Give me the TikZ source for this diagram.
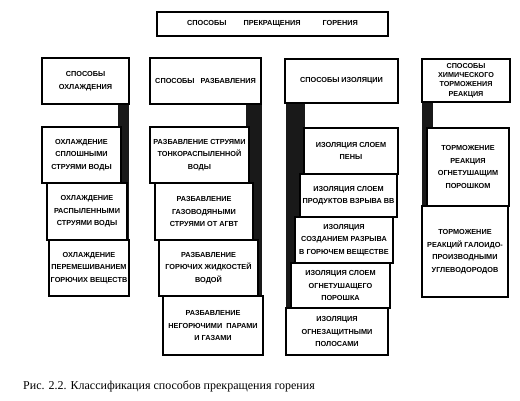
\documentclass[tikz,border=0pt]{standalone}
\usepackage{fontspec}
\setmainfont{Liberation Serif}
\setsansfont{Liberation Sans}
\newcommand\boxat[7][]{\node[box,anchor=north west,minimum width={(#5-#3)*1pt},minimum height={(#6-#4)*1pt},#1] (#2) at (#3,#4) {#7};}
\begin{document}
\begin{tikzpicture}[x=1pt,y=-1pt,
  box/.style={draw=black,line width=1.1pt,fill=white,inner sep=0pt,outer sep=0pt,align=center,
    font=\sffamily\bfseries\fontsize{7.3}{12.5}\selectfont},
  tight/.style={font=\sffamily\bfseries\fontsize{7.2}{9.2}\selectfont},
  spine/.style={fill=black!90,draw=none}]
\useasboundingbox[fill=white] (0,0) rectangle (520,400);
% dark spines behind the columns
\fill[spine] (118,100) rectangle (129,242);
\fill[spine] (246,100) rectangle (262,298);
\fill[spine] (286,100) rectangle (305,310);
\fill[spine] (422,100) rectangle (433,208);
% top
\boxat{top}{157}{12}{388}{36}{СПОСОБЫ\hspace{17pt}ПРЕКРАЩЕНИЯ\hspace{22pt}ГОРЕНИЯ}
% headers
\boxat{h1}{42}{58}{129}{104}{СПОСОБЫ\\ОХЛАЖДЕНИЯ}
\boxat{h2}{150}{58}{261}{104}{СПОСОБЫ\hspace{6pt}РАЗБАВЛЕНИЯ}
\boxat{h3}{285}{59}{398}{103}{СПОСОБЫ ИЗОЛЯЦИИ}
\boxat[tight]{h4}{422}{59}{510}{102}{СПОСОБЫ\\ХИМИЧЕСКОГО\\ТОРМОЖЕНИЯ\\РЕАКЦИЯ}
% column 1
\boxat{a1}{42}{127}{121}{183}{ОХЛАЖДЕНИЕ\\СПЛОШНЫМИ\\СТРУЯМИ ВОДЫ}
\boxat{a2}{47}{183}{127}{240}{ОХЛАЖДЕНИЕ\\РАСПЫЛЕННЫМИ\\СТРУЯМИ ВОДЫ}
\boxat{a3}{49}{240}{129}{296}{ОХЛАЖДЕНИЕ\\ПЕРЕМЕШИВАНИЕМ\\ГОРЮЧИХ ВЕЩЕСТВ}
% column 2
\boxat{b1}{150}{127}{249}{183}{РАЗБАВЛЕНИЕ СТРУЯМИ\\ТОНКОРАСПЫЛЕННОЙ\\ВОДЫ}
\boxat{b2}{155}{183}{253}{240}{РАЗБАВЛЕНИЕ\\ГАЗОВОДЯНЫМИ\\СТРУЯМИ ОТ АГВТ}
\boxat{b3}{159}{240}{258}{296}{РАЗБАВЛЕНИЕ\\ГОРЮЧИХ ЖИДКОСТЕЙ\\ВОДОЙ}
\boxat{b4}{163}{296}{263}{355}{РАЗБАВЛЕНИЕ\\НЕГОРЮЧИМИ\hspace{4pt}ПАРАМИ\\И ГАЗАМИ}
% column 3
\boxat{c1}{304}{128}{398}{174}{ИЗОЛЯЦИЯ СЛОЕМ\\ПЕНЫ}
\boxat{c2}{300}{174}{397}{217}{ИЗОЛЯЦИЯ СЛОЕМ\\ПРОДУКТОВ ВЗРЫВА ВВ}
\boxat{c3}{295}{217}{393}{263}{ИЗОЛЯЦИЯ\\СОЗДАНИЕМ РАЗРЫВА\\В ГОРЮЧЕМ ВЕЩЕСТВЕ}
\boxat{c4}{291}{263}{390}{308}{ИЗОЛЯЦИЯ СЛОЕМ\\ОГНЕТУШАЩЕГО\\ПОРОШКА}
\boxat{c5}{286}{308}{388}{355}{ИЗОЛЯЦИЯ\\ОГНЕЗАЩИТНЫМИ\\ПОЛОСАМИ}
% column 4
\boxat{d1}{427}{128}{509}{206}{ТОРМОЖЕНИЕ\\РЕАКЦИЯ\\ОГНЕТУШАЩИМ\\ПОРОШКОМ}
\boxat{d2}{422}{206}{508}{297}{ТОРМОЖЕНИЕ\\РЕАКЦИЙ ГАЛОИДО-\\ПРОИЗВОДНЫМИ\\УГЛЕВОДОРОДОВ}
% caption
\node[anchor=west,inner sep=0pt,font=\fontsize{12}{14}\selectfont] (cap) at (23,386) {Рис. 2.2. Классификация способов прекращения горения};
\end{tikzpicture}
\end{document}
